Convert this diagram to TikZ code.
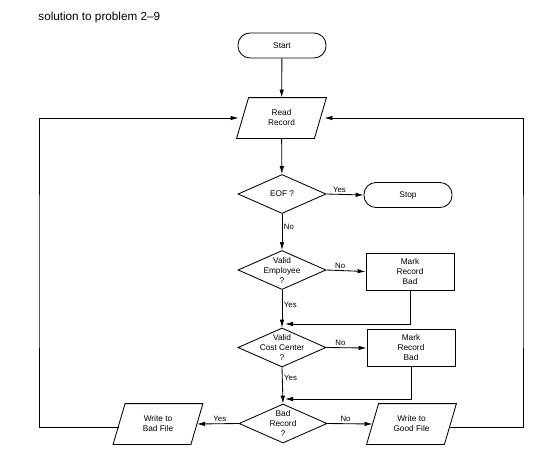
\documentclass[tikz,border=0pt]{standalone}
\usepackage{fontspec}
\setmainfont{Liberation Sans}
\usetikzlibrary{shapes.geometric,arrows.meta}
\begin{document}
\begin{tikzpicture}[x=1pt,y=-1pt,
  line width=0.85pt,
  txt/.style={font=\fontsize{8.3}{10}\selectfont, align=center, inner sep=0pt},
  term/.style={draw, rectangle, rounded corners=12pt, minimum width=88pt, minimum height=25pt, txt},
  procbox/.style={draw, rectangle, minimum width=88pt, minimum height=37pt, txt},
  io/.style={rectangle, minimum width=77pt, minimum height=40pt, txt},
  dec/.style={draw, diamond, minimum width=88pt, minimum height=39pt, inner sep=0pt},
  lab/.style={font=\fontsize{7.8}{9}\selectfont, inner sep=1.5pt},
  arr/.style={-{Latex[length=8pt,width=4.5pt]}}
]
\useasboundingbox (0,0) rectangle (546,453);
\node[anchor=base west, inner sep=0pt, font=\fontsize{11.7}{13}\selectfont] (title) at (38,20) {solution to problem 2--9};

\node[term] (start) at (282,45.5) {Start};
\node[io] (rr) at (281.5,118) {Read\\Record};
\node[dec, label={[txt]center:EOF ?}] (eof) at (282,194) {};
\node[term] (stop) at (408,195) {Stop};
\node[dec, label={[txt]center:Valid\\Employee\\?}] (ve) at (282,270) {};
\node[procbox] (mb1) at (410,271.5) {Mark\\Record\\Bad};
\node[dec, label={[txt]center:Valid\\Cost Center\\?}] (vc) at (282,347.5) {};
\node[procbox] (mb2) at (411,348) {Mark\\Record\\Bad};
\node[dec, label={[txt]center:Bad\\Record\\?}] (br) at (283,423.5) {};
\node[io] (bf) at (158,424) {Write to\\Bad File};
\node[io] (gf) at (411.5,424) {Write to\\Good File};

\foreach \n in {rr,bf,gf}
  \draw ([xshift=6pt]\n.north west) -- ([xshift=6pt]\n.north east) -- ([xshift=-6pt]\n.south east) -- ([xshift=-6pt]\n.south west) -- cycle;

\coordinate (j1) at (285,324);
\coordinate (j2) at (285,399);
\coordinate (L) at (39,270);
\coordinate (R) at (523,270);

\draw[arr] (start) -- (rr);
\draw[arr] (rr) -- (eof);
\draw[arr] (eof.east) -- node[lab, pos=0.35, above] {Yes} (stop.west);
\draw[arr] (eof.south) -- node[lab, pos=0.35, right] {No} (ve.north);
\draw[arr] (ve.east) -- node[lab, pos=0.35, above] {No} (mb1.west);
\draw[arr] (ve.south) -- node[lab, pos=0.4, right] {Yes} (vc.north);
\draw[arr] (mb1.south) |- (j1);
\draw[arr] (vc.east) -- node[lab, pos=0.35, above] {No} (mb2.west);
\draw[arr] (vc.south) -- node[lab, pos=0.3, right] {Yes} (br.north);
\draw[arr] (mb2.south) |- (j2);
\draw[arr] (br.west) -- node[lab, pos=0.45, above] {Yes} (bf.east);
\draw[arr] (br.east) -- node[lab, pos=0.4, above] {No} (gf.west);
\draw[arr, shorten >=4pt] ([yshift=-3pt]bf.west) -| (L) |- (rr.west);
\draw[arr, shorten >=4pt] ([yshift=-3pt]gf.east) -| (R) |- (rr.east);
\end{tikzpicture}
\end{document}
